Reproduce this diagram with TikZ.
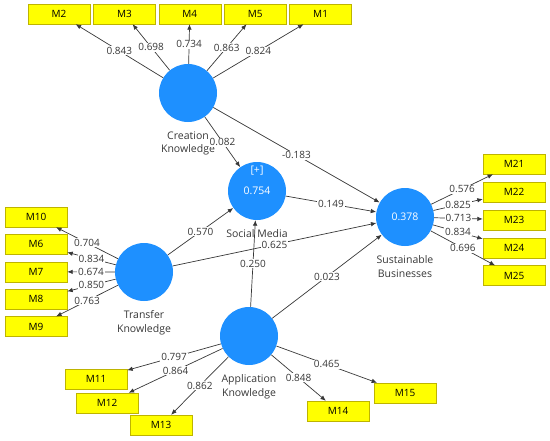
\documentclass[tikz,border=0pt]{standalone}
\usepackage{fontspec}
\setmainfont{Open Sans}
\usetikzlibrary{arrows.meta,positioning}
\definecolor{lvblue}{RGB}{30,144,255}
\definecolor{mvyellow}{RGB}{255,255,0}
\definecolor{mvborder}{RGB}{190,180,0}
\definecolor{pathgray}{RGB}{55,55,55}
\tikzset{
  latent/.style = {
    circle,
    fill=lvblue,
    minimum size=58pt,
    inner sep=0pt,
    text=white,
    font=\fontsize{10.5}{12}\selectfont
  },
  lv_label/.style = {
    align=center,
    text=pathgray,
    font=\fontsize{10.5}{13.5}\selectfont
  },
  indicator/.style = {
    rectangle,
    draw=mvborder,
    fill=mvyellow,
    minimum width=62pt,
    minimum height=20pt,
    inner sep=0pt,
    font=\fontsize{10}{12}\selectfont
  },
  pls_arrow/.style = {
    draw=pathgray,
    line width=0.7pt,
    ->,
    >={Latex[length=5.5pt,width=4.5pt]}
  },
  coef/.style = {
    fill=white,
    inner sep=0.8pt,
    text=pathgray,
    font=\fontsize{10}{12}\selectfont
  }
}

\begin{document}
\begin{tikzpicture}[x=1pt, y=-1pt, node distance=6pt]
\useasboundingbox (0,0) rectangle (550,440);

% Latente Variablen
\node[latent] (cre) at (188,93) {};
\node[lv_label, below=of cre] (cre_lbl) {Creation\\Knowledge};

\node[latent, label={[text=white, font=\fontsize{10.5}{12}\selectfont, yshift=-17pt]above:{[+]}}] (soc) at (257,191) {0.754};
\node[lv_label, below=of soc] (soc_lbl) {Social Media};

\node[latent] (tra) at (144,272) {};
\node[lv_label, below=of tra] (tra_lbl) {Transfer\\Knowledge};

\node[latent] (app) at (249,336) {};
\node[lv_label, below=of app] (app_lbl) {Application\\Knowledge};

\node[latent] (sus) at (405,217) {0.378};
\node[lv_label, below=of sus] (sus_lbl) {Sustainable\\Businesses};

% Indikatoren Creation Knowledge
\node[indicator] (m2) at (59,14) {M2};
\node[indicator, right=3pt of m2] (m3) {M3};
\node[indicator, right=3pt of m3] (m4) {M4};
\node[indicator, right=3pt of m4] (m5) {M5};
\node[indicator, right=3pt of m5] (m1) {M1};

% Indikatoren Transfer Knowledge
\node[indicator] (m10) at (36,217) {M10};
\node[indicator, below=7pt of m10] (m6) {M6};
\node[indicator, below=7pt of m6] (m7) {M7};
\node[indicator, below=7pt of m7] (m8) {M8};
\node[indicator, below=7pt of m8] (m9) {M9};

% Indikatoren Application Knowledge
\node[indicator] (m11) at (96,379) {M11};
\node[indicator] (m12) at (107,403) {M12};
\node[indicator] (m13) at (161,425) {M13};
\node[indicator] (m14) at (338,411) {M14};
\node[indicator] (m15) at (405,393) {M15};

% Indikatoren Sustainable Businesses
\node[indicator] (m21) at (514,164) {M21};
\node[indicator, below=7.5pt of m21] (m22) {M22};
\node[indicator, below=7.5pt of m22] (m23) {M23};
\node[indicator, below=7.5pt of m23] (m24) {M24};
\node[indicator, below=7.5pt of m24] (m25) {M25};

% Strukturmodell
\draw[pls_arrow] (cre) -- (soc) node[coef, midway] {0.082};
\draw[pls_arrow] (cre) -- (sus) node[coef, midway] {-0.183};
\draw[pls_arrow] (tra) -- (soc) node[coef, midway] {0.570};
\draw[pls_arrow] (tra) -- (sus) node[coef, midway] {0.625};
\draw[pls_arrow] (app) -- (soc) node[coef, midway] {0.250};
\draw[pls_arrow] (app) -- (sus) node[coef, midway] {0.023};
\draw[pls_arrow] (soc) -- (sus) node[coef, midway] {0.149};

% Messmodell
\draw[pls_arrow] (cre) -- (m2) node[coef, midway] {0.843};
\draw[pls_arrow] (cre) -- (m3) node[coef, midway] {0.698};
\draw[pls_arrow] (cre) -- (m4) node[coef, midway] {0.734};
\draw[pls_arrow] (cre) -- (m5) node[coef, midway] {0.863};
\draw[pls_arrow] (cre) -- (m1) node[coef, midway] {0.824};

\draw[pls_arrow] (tra) -- (m10) node[coef, midway] {0.704};
\draw[pls_arrow] (tra) -- (m6) node[coef, midway] {0.834};
\draw[pls_arrow] (tra) -- (m7) node[coef, midway] {0.674};
\draw[pls_arrow] (tra) -- (m8) node[coef, midway] {0.850};
\draw[pls_arrow] (tra) -- (m9) node[coef, midway] {0.763};

\draw[pls_arrow] (app) -- (m11) node[coef, midway] {0.797};
\draw[pls_arrow] (app) -- (m12) node[coef, midway] {0.864};
\draw[pls_arrow] (app) -- (m13) node[coef, midway] {0.862};
\draw[pls_arrow] (app) -- (m14) node[coef, midway] {0.848};
\draw[pls_arrow] (app) -- (m15) node[coef, midway] {0.465};

\draw[pls_arrow] (sus) -- (m21) node[coef, midway] {0.576};
\draw[pls_arrow] (sus) -- (m22) node[coef, midway] {0.825};
\draw[pls_arrow] (sus) -- (m23) node[coef, midway] {0.713};
\draw[pls_arrow] (sus) -- (m24) node[coef, midway] {0.834};
\draw[pls_arrow] (sus) -- (m25) node[coef, midway] {0.696};

\end{tikzpicture}
\end{document}
